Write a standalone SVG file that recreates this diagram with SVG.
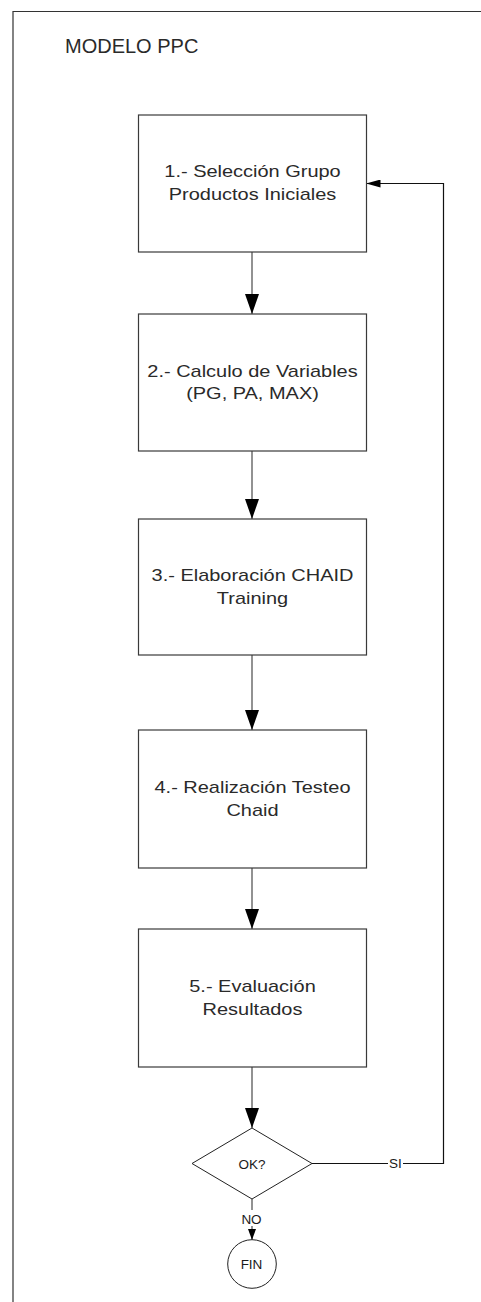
<svg xmlns="http://www.w3.org/2000/svg" width="481" height="1302" viewBox="0 0 481 1302">
  <style>
    .frame { fill: none; stroke: #333; stroke-width: 1.2; }
    .box { fill: #fff; stroke: #3a3a3a; stroke-width: 1.2; }
    .shape { fill: #fff; stroke: #222; stroke-width: 1; }
    .flow { fill: none; stroke: #6e6e6e; stroke-width: 1.5; }
    .loop { fill: none; stroke: #111; stroke-width: 1.2; }
    .title { font-family: "Liberation Sans", Arial, sans-serif; font-size: 20px; fill: #2a2a2a; }
    .lbl { font-family: "Liberation Sans", Arial, sans-serif; font-size: 17px; fill: #2a2a2a; text-anchor: middle; }
    .small { font-family: "Liberation Sans", Arial, sans-serif; font-size: 13.5px; fill: #1a1a1a; text-anchor: middle; }
  </style>
  <defs>
    <marker id="arrowLg" markerUnits="userSpaceOnUse" markerWidth="20" markerHeight="14" refX="20" refY="7" orient="auto">
      <path d="M0,0 L20,7 L0,14 Z" fill="#000"/>
    </marker>
    <marker id="arrowSm" markerUnits="userSpaceOnUse" markerWidth="14" markerHeight="8" refX="14" refY="4" orient="auto">
      <path d="M0,0 L14,4 L0,8 Z" fill="#000"/>
    </marker>
    <marker id="arrowXs" markerUnits="userSpaceOnUse" markerWidth="11" markerHeight="8" refX="11" refY="4" orient="auto">
      <path d="M0,0 L11,4 L0,8 Z" fill="#000"/>
    </marker>
  </defs>

  <rect width="481" height="1302" fill="#fff"/>

  <!-- page frame (open at right and bottom) -->
  <path class="frame" d="M13,1302 L13,11.5 L481,11.5"/>
  <text class="title" x="65" y="53">MODELO PPC</text>

  <!-- connectors -->
  <g id="connectors">
    <line class="flow" x1="252" y1="252" x2="252" y2="314" marker-end="url(#arrowLg)"/>
    <line class="flow" x1="252" y1="451" x2="252" y2="519" marker-end="url(#arrowLg)"/>
    <line class="flow" x1="252" y1="655" x2="252" y2="730" marker-end="url(#arrowLg)"/>
    <line class="flow" x1="252" y1="868" x2="252" y2="929" marker-end="url(#arrowLg)"/>
    <line class="flow" x1="252" y1="1067" x2="252" y2="1128" marker-end="url(#arrowLg)"/>
    <!-- SI branch back to step 1 -->
    <path class="loop" d="M312,1163.5 L443.5,1163.5 L443.5,183.5 L366.5,183.5" marker-end="url(#arrowSm)"/>
    <rect x="388" y="1155" width="15" height="16" fill="#fff"/>
    <text class="small" x="395.5" y="1168">SI</text>
    <!-- NO branch to end -->
    <line class="flow" x1="252" y1="1199" x2="252" y2="1240" marker-end="url(#arrowXs)"/>
    <rect x="239" y="1210" width="26" height="16" fill="#fff"/>
    <text class="small" x="251.5" y="1224">NO</text>
  </g>

  <g id="step1">
    <rect class="box" x="138.5" y="115" width="228" height="137"/>
    <text class="lbl" transform="translate(252.5,0) scale(1.175,1)"><tspan x="0" y="177.5">1.- Selección Grupo</tspan><tspan x="0" y="200.5">Productos Iniciales</tspan></text>
  </g>

  <g id="step2">
    <rect class="box" x="138.5" y="314" width="228" height="137"/>
    <text class="lbl" transform="translate(252.5,0) scale(1.175,1)"><tspan x="0" y="377">2.- Calculo de Variables</tspan><tspan x="0" y="399.5">(PG, PA, MAX)</tspan></text>
  </g>

  <g id="step3">
    <rect class="box" x="138.5" y="519" width="228" height="136"/>
    <text class="lbl" transform="translate(252.5,0) scale(1.175,1)"><tspan x="0" y="581.5">3.- Elaboración CHAID</tspan><tspan x="0" y="604">Training</tspan></text>
  </g>

  <g id="step4">
    <rect class="box" x="138.5" y="730" width="228" height="138"/>
    <text class="lbl" transform="translate(252.5,0) scale(1.175,1)"><tspan x="0" y="793.5">4.- Realización Testeo</tspan><tspan x="0" y="816">Chaid</tspan></text>
  </g>

  <g id="step5">
    <rect class="box" x="138.5" y="929" width="228" height="138"/>
    <text class="lbl" transform="translate(252.5,0) scale(1.175,1)"><tspan x="0" y="992.5">5.- Evaluación</tspan><tspan x="0" y="1015">Resultados</tspan></text>
  </g>

  <g id="decision">
    <polygon class="shape" points="252,1128 312,1163.5 252,1199 192,1163.5"/>
    <text class="small" x="252" y="1168.5">OK?</text>
  </g>

  <g id="end">
    <circle class="shape" cx="252" cy="1264" r="24.3"/>
    <text class="small" x="251.5" y="1268.5">FIN</text>
  </g>
</svg>
